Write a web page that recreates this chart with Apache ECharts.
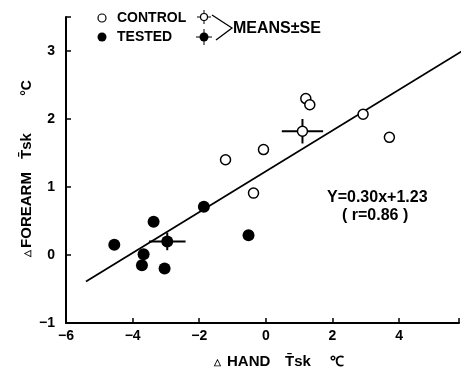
<!DOCTYPE html>
<html>
<head>
<meta charset="utf-8">
<script src="https://cdn.jsdelivr.net/npm/echarts@6/dist/echarts.min.js"></script>
<style>
  html, body { margin: 0; padding: 0; background: #fff; }
  #chart { width: 462px; height: 369px; }
</style>
</head>
<body>
<div id="chart"></div>
<script>
// values
var controlX = [-1.21, -0.07, -0.37, 1.20, 1.32, 2.92, 3.71];
var controlY = [1.40, 1.55, 0.91, 2.30, 2.21, 2.07, 1.73];
var testedX = [-4.55, -3.37, -3.67, -3.72, -3.04, -1.86, -0.52];
var testedY = [0.15, 0.49, 0.01, -0.15, -0.20, 0.71, 0.29];
// means [x, y, ±x, ±y]
var controlMean = [1.10, 1.82, 0.62, 0.18];
var testedMean = [-2.96, 0.20, 0.55, 0.13];
// regression Y=0.30x+1.23, ends as drawn
var lineX = [-5.4, 6.0];
var lineY = [-0.39, 3.03];
var xTicks = [-6, -4, -2, 0, 2, 4];
var yTicks = [-1, 0, 1, 2, 3];

var font = '"Liberation Sans", Arial, sans-serif';

function pairs(xs, ys) {
  var out = [];
  for (var i = 0; i < xs.length; i++) out.push([xs[i], ys[i]]);
  return out;
}

function minus(v) {
  return v < 0 ? '\u2212' + Math.abs(v) : String(v);
}

function errBars(params, api) {
  var x = api.value(0), y = api.value(1), ex = api.value(2), ey = api.value(3);
  var l = api.coord([x - ex, y]), r = api.coord([x + ex, y]);
  var t = api.coord([x, y + ey]), b = api.coord([x, y - ey]);
  var st = { stroke: '#000', lineWidth: 2 };
  return {
    type: 'group',
    children: [
      { type: 'line', shape: { x1: l[0], y1: l[1], x2: r[0], y2: r[1] }, style: st },
      { type: 'line', shape: { x1: t[0], y1: t[1], x2: b[0], y2: b[1] }, style: st }
    ]
  };
}

// bold text piece for graphic
function txt(s, x, y, size, rot, align) {
  return {
    type: 'text', x: x, y: y, rotation: rot || 0,
    style: {
      text: s, font: 'bold ' + size + 'px ' + font, fill: '#000',
      align: align || 'left', verticalAlign: 'middle'
    }
  };
}

var chart = echarts.init(document.getElementById('chart'));

var option = {
  backgroundColor: '#fff',
  animation: false,
  grid: { left: 66, right: 1, top: 17, bottom: 46 },
  xAxis: {
    type: 'value', min: -6, max: 5.8, interval: 2,
    axisLine: { onZero: false, lineStyle: { color: '#000', width: 2 } },
    axisTick: { inside: true, length: 5, lineStyle: { color: '#000', width: 1.5 } },
    splitLine: { show: false },
    axisLabel: {
      color: '#000', fontWeight: 'bold', fontSize: 14, fontFamily: font, margin: 6,
      formatter: function (v) { return xTicks.indexOf(v) >= 0 ? minus(v) : ''; }
    }
  },
  yAxis: {
    type: 'value', min: -1, max: 3.5, interval: 1,
    axisLine: { onZero: false, lineStyle: { color: '#000', width: 2 } },
    axisTick: { inside: true, length: 5, lineStyle: { color: '#000', width: 1.5 } },
    splitLine: { show: false },
    axisLabel: {
      color: '#000', fontWeight: 'bold', fontSize: 14, fontFamily: font, margin: 11,
      formatter: function (v) { return yTicks.indexOf(v) >= 0 ? minus(v) : ''; }
    }
  },
  series: [
    {
      type: 'line', data: pairs(lineX, lineY), symbol: 'none', silent: true,
      lineStyle: { color: '#000', width: 1.8 }, z: 1
    },
    { type: 'custom', renderItem: errBars, data: [controlMean, testedMean], z: 2 },
    {
      type: 'scatter', data: pairs(controlX, controlY), symbolSize: 10,
      itemStyle: { color: '#fff', borderColor: '#000', borderWidth: 1.5, opacity: 1 }, z: 3
    },
    {
      type: 'scatter', data: pairs(testedX, testedY), symbolSize: 12,
      itemStyle: { color: '#000', opacity: 1 }, z: 3
    },
    {
      type: 'scatter', data: [controlMean.slice(0, 2)], symbolSize: 10,
      itemStyle: { color: '#fff', borderColor: '#000', borderWidth: 1.5, opacity: 1 }, z: 4
    },
    {
      type: 'scatter', data: [testedMean.slice(0, 2)], symbolSize: 12,
      itemStyle: { color: '#000', opacity: 1 }, z: 4
    }
  ],
  graphic: [
    // legend
    { type: 'circle', shape: { cx: 102, cy: 18, r: 4 }, style: { fill: '#fff', stroke: '#000', lineWidth: 1.2 } },
    txt('CONTROL', 117, 18, 14),
    { type: 'circle', shape: { cx: 102, cy: 37, r: 4.5 }, style: { fill: '#000' } },
    txt('TESTED', 117, 37, 14),
    { type: 'line', shape: { x1: 197, y1: 17, x2: 211, y2: 17 }, style: { stroke: '#000', lineWidth: 1 } },
    { type: 'line', shape: { x1: 204, y1: 10, x2: 204, y2: 24 }, style: { stroke: '#000', lineWidth: 1 } },
    { type: 'circle', shape: { cx: 204, cy: 17, r: 3.5 }, style: { fill: '#fff', stroke: '#000', lineWidth: 1.2 } },
    { type: 'line', shape: { x1: 196, y1: 37, x2: 212, y2: 37 }, style: { stroke: '#000', lineWidth: 1 } },
    { type: 'line', shape: { x1: 204, y1: 29, x2: 204, y2: 45 }, style: { stroke: '#000', lineWidth: 1 } },
    { type: 'circle', shape: { cx: 204, cy: 37, r: 4.5 }, style: { fill: '#000' } },
    { type: 'polyline', shape: { points: [[212, 15], [232, 28], [216, 40]] }, style: { stroke: '#000', lineWidth: 1.3, fill: null } },
    txt('MEANS\u00b1SE', 233, 29, 16),
    // equation
    txt('Y=0.30x+1.23', 327, 198, 16),
    txt('( r=0.86 )', 342, 216, 16),
    // x axis title
    txt('\u25b3', 214, 363, 9),
    txt('HAND', 227, 362, 15),
    txt('T\u0304sk', 285, 362, 15),
    txt('\u2103', 330, 362, 14),
    // y axis title
    txt('\u25b3', 28, 253, 9, Math.PI / 2, 'center'),
    txt('FOREARM', 27, 210, 15, Math.PI / 2, 'center'),
    txt('T\u0304sk', 27, 146, 15, Math.PI / 2, 'center'),
    txt('\u00b0C', 27, 88, 14, Math.PI / 2, 'center')
  ]
};

chart.setOption(option);
</script>
</body>
</html>
